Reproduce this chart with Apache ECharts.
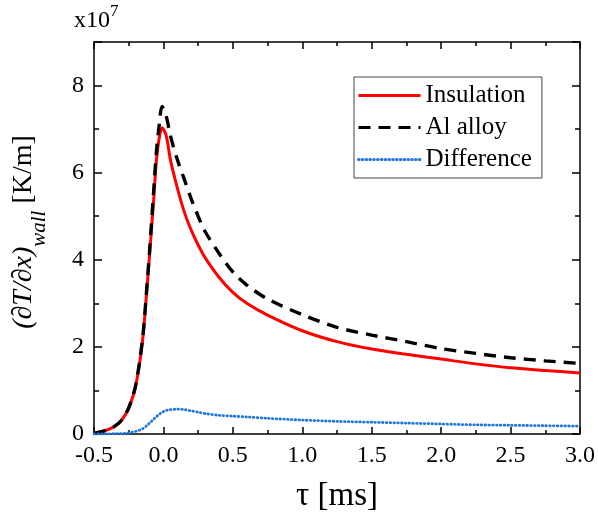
<!DOCTYPE html>
<html>
<head>
<meta charset="utf-8">
<script src="https://cdn.jsdelivr.net/npm/echarts@6/dist/echarts.min.js"></script>
<style>html,body{margin:0;padding:0;background:#fff;}#c{width:598px;height:526px;}</style>
</head>
<body>
<div id="c"></div>
<script>
const tau = [-0.5, -0.45, -0.4, -0.35, -0.3, -0.25, -0.2, -0.15, -0.12, -0.1, -0.07, -0.05, -0.03, -0.01, 0.02, 0.05, 0.1, 0.15, 0.2, 0.25, 0.3, 0.4, 0.5, 0.6, 0.75, 1.0, 1.25, 1.5, 1.75, 2.0, 2.25, 2.5, 2.75, 3.0];
const insulation = [0.02, 0.05, 0.1, 0.18, 0.32, 0.6, 1.1, 2.15, 3.3, 4.1, 5.4, 6.3, 6.8, 7.03, 6.85, 6.3, 5.65, 5.1, 4.68, 4.34, 4.05, 3.6, 3.25, 3.0, 2.73, 2.37, 2.12, 1.95, 1.83, 1.72, 1.61, 1.52, 1.46, 1.40];
const alAlloy = [0.02, 0.05, 0.1, 0.18, 0.32, 0.6, 1.12, 2.2, 3.35, 4.2, 5.6, 6.5, 7.1, 7.52, 7.3, 6.85, 6.3, 5.85, 5.4, 5.0, 4.65, 4.15, 3.72, 3.42, 3.1, 2.74, 2.45, 2.27, 2.12, 1.96, 1.85, 1.75, 1.68, 1.62];
const difference = [0, 0, 0, 0.01, 0.01, 0.03, 0.06, 0.12, 0.19, 0.25, 0.34, 0.4, 0.45, 0.5, 0.54, 0.56, 0.57, 0.56, 0.53, 0.5, 0.47, 0.43, 0.41, 0.39, 0.36, 0.32, 0.29, 0.27, 0.25, 0.23, 0.21, 0.2, 0.19, 0.18];
const seriesNames = ['Insulation', 'Al alloy', 'Difference'];
const xRange = [-0.5, 3.0];
const yRange = [0, 9];

const pairs = arr => tau.map((t, i) => [t, arr[i]]);
const FONT = '"Liberation Serif", "Times New Roman", serif';
const axisLine = { show: true, onZero: false, lineStyle: { color: '#000', width: 1.5 } };
const noLine = { show: false, onZero: false };
const tickStyle = { color: '#000', width: 1.5 };

const chart = echarts.init(document.getElementById('c'), null, { renderer: 'canvas' });
chart.setOption({
  animation: false,
  backgroundColor: '#fff',
  grid: { left: 94, right: 16, top: 42, bottom: 92, containLabel: false },
  xAxis: [
    {
      type: 'value', min: xRange[0], max: xRange[1], interval: 0.5, position: 'bottom',
      name: 'τ [ms]', nameLocation: 'middle', nameGap: 46,
      nameTextStyle: { fontFamily: FONT, fontSize: 33, color: '#000' },
      axisLine: axisLine,
      axisTick: { show: true, inside: true, length: 7, lineStyle: tickStyle },
      minorTick: { show: true, splitNumber: 2, length: 4, lineStyle: tickStyle },
      axisLabel: { fontFamily: FONT, fontSize: 24, color: '#000', margin: 10, formatter: v => v.toFixed(1) },
      splitLine: { show: false }
    },
    {
      type: 'value', min: xRange[0], max: xRange[1], interval: 0.5, position: 'top',
      axisLine: axisLine,
      axisTick: { show: true, inside: true, length: 7, lineStyle: tickStyle },
      minorTick: { show: true, splitNumber: 2, length: 4, lineStyle: tickStyle },
      axisLabel: { show: false }, splitLine: { show: false }
    }
  ],
  yAxis: [
    {
      type: 'value', min: yRange[0], max: yRange[1], interval: 2, position: 'left',
      axisLine: axisLine,
      axisTick: { show: true, inside: true, length: 8, lineStyle: tickStyle },
      axisLabel: { fontFamily: FONT, fontSize: 24, color: '#000', margin: 10, formatter: v => (v % 2 === 0 ? String(v) : '') },
      splitLine: { show: false }
    },
    {
      type: 'value', min: yRange[0], max: yRange[1], interval: 2, position: 'right',
      axisLine: axisLine,
      axisTick: { show: true, inside: true, length: 8, lineStyle: tickStyle },
      axisLabel: { show: false }, splitLine: { show: false }
    },
    {
      type: 'value', min: yRange[0], max: yRange[1], interval: 1, position: 'left',
      axisLine: noLine,
      axisTick: { show: true, inside: true, length: 5, lineStyle: tickStyle },
      axisLabel: { show: false }, splitLine: { show: false }
    },
    {
      type: 'value', min: yRange[0], max: yRange[1], interval: 1, position: 'right',
      axisLine: noLine,
      axisTick: { show: true, inside: true, length: 5, lineStyle: tickStyle },
      axisLabel: { show: false }, splitLine: { show: false }
    }
  ],
  legend: {
    orient: 'vertical', left: 354, top: 77,
    padding: [6, 10, 6, 3], itemGap: 7, itemWidth: 62, itemHeight: 25,
    borderColor: '#444', borderWidth: 1, backgroundColor: '#fff',
    itemStyle: { opacity: 0 },
    lineStyle: { width: 3 },
    textStyle: { fontFamily: FONT, fontSize: 25, color: '#000' },
    data: seriesNames
  },
  series: [
    {
      name: seriesNames[0], type: 'line', data: pairs(insulation), smooth: 0.3, showSymbol: false,
      lineStyle: { color: '#ff0000', width: 3 }, itemStyle: { color: '#ff0000' }, z: 3
    },
    {
      name: seriesNames[1], type: 'line', data: pairs(alAlloy), smooth: 0.3, showSymbol: false,
      lineStyle: { color: '#000', width: 3.4, type: [12, 8] }, itemStyle: { color: '#000' }, z: 4
    },
    {
      name: seriesNames[2], type: 'line', data: pairs(difference), smooth: 0.3, showSymbol: false,
      lineStyle: { color: '#2176de', width: 2.8, type: [0.6, 3.2], cap: 'round' }, itemStyle: { color: '#2176de' }, z: 5
    }
  ],
  graphic: [
    {
      type: 'text', left: 74, top: 3,
      style: {
        text: '{a|x10}{b|7}',
        rich: {
          a: { fontFamily: FONT, fontSize: 24, fill: '#000', verticalAlign: 'bottom', lineHeight: 30 },
          b: { fontFamily: FONT, fontSize: 17, fill: '#000', verticalAlign: 'top', lineHeight: 30 }
        }
      }
    },
    {
      type: 'text', x: 30, y: 232, rotation: Math.PI / 2,
      style: {
        text: '{a|(∂T/∂x)}{b|wall}{c| [K/m]}',
        align: 'center', verticalAlign: 'middle',
        rich: {
          a: { fontFamily: FONT, fontSize: 28, fontStyle: 'italic', fill: '#000', verticalAlign: 'top', lineHeight: 40 },
          b: { fontFamily: FONT, fontSize: 21, fontStyle: 'italic', fill: '#000', verticalAlign: 'bottom', lineHeight: 40 },
          c: { fontFamily: FONT, fontSize: 28, fill: '#000', verticalAlign: 'top', lineHeight: 40 }
        }
      }
    }
  ]
});
</script>
</body>
</html>
